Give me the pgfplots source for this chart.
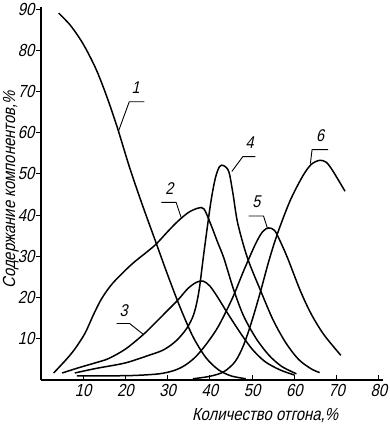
\documentclass[border=0pt]{standalone}
\usepackage{fontspec}
\setmainfont{Liberation Sans}
\newfontfamily\dfont[FakeSlant=0.22,FakeStretch=0.85]{Liberation Sans}
\usepackage{pgfplots}
\pgfplotsset{compat=1.18}
\begin{document}
\begin{tikzpicture}
\useasboundingbox (-41pt,-50pt) rectangle (348pt,380pt);
\begin{axis}[
  at={(0,0)}, anchor=south west,
  width=342pt, height=373pt, scale only axis,
  xmin=0, xmax=81, ymin=0, ymax=90.5,
  axis x line=bottom, axis y line=left,
  axis line style={-, line width=1.4pt},
  xtick={10,20,...,80}, ytick={10,20,...,90},
  xtick align=inside, ytick align=outside,
  major tick length=5pt,
  tick style={black, line width=1.1pt},
  /pgf/number format/assume math mode=true,
  ticklabel style={font=\dfont\fontsize{17.5}{17.5}\selectfont},
  xticklabel style={yshift=-1pt},
  yticklabel style={xshift=2pt},
  xlabel={Количество отгона,\%},
  ylabel={Содержание компонентов,\%},
  xlabel style={font=\dfont\fontsize{17.5}{17.5}\selectfont, at={(axis description cs:0.655,-0.094)}, anchor=center},
  ylabel style={font=\dfont\fontsize{17.5}{17.5}\selectfont, at={(axis description cs:-0.088,0.51)}, anchor=center, rotate=0},
  clip=false,
]
% curve 1
\addplot[black, line width=1.5pt, smooth] coordinates {(4.2,89)(7,86)(10,81.5)(13,75.5)(15.5,69)(18,61.5)(21,51.5)(24,42.5)(27,34)(30,25.5)(33,17.5)(36,10.5)(39,5.5)(42,2.5)(45,1)(48.5,0.3)};
% curve 2
\addplot[black, line width=1.5pt, smooth] coordinates {(3,1.7)(6,5)(8,7.5)(10.4,11.3)(12.5,16)(14.4,19.8)(17,23.5)(21.4,28)(25,31)(27.3,33)(30,36)(32.5,38.6)(35,40.7)(37.2,41.7)(38.6,41.5)(40.2,37.8)(41.8,33.5)(43.3,29.6)(45.6,22)(48,15.5)(51,10)(54,6)(57,3.3)(60.5,1.5)};
% curve 3
\addplot[black, line width=1.5pt, smooth] coordinates {(5,1.7)(9,3)(13,4.2)(16,5.2)(20,7.5)(24.2,11)(27,13.8)(30,16.9)(32.5,19.5)(34.8,22.2)(36.8,23.7)(38.4,24)(40,22.8)(41.9,20)(44,16.5)(47.3,11.3)(50,7.5)(53,4.5)(56.5,2.5)(60,1.2)};
% curve 4
\addplot[black, line width=1.5pt, smooth] coordinates {(8,1.7)(13,2.8)(19.8,4.1)(25,5.8)(29,7.3)(32,9.5)(34.5,12.5)(36.2,16)(37.4,21.5)(38.6,31)(40.2,43)(41.3,49)(42.3,51.8)(43.3,52)(44.5,50.5)(45.5,45)(46.6,38)(48.9,29.6)(52,21.7)(55,14.5)(58,9)(61,5)(64,2.7)(66,1.8)};
% curve 5
\addplot[black, line width=1.5pt, smooth] coordinates {(8.5,1)(15,1)(22,1.1)(28,1.5)(31.5,2.3)(34,3.5)(36.5,5.5)(39,8.5)(42,13)(45.4,20)(48,26.5)(50.8,33)(52.5,36)(53.9,36.9)(55.3,36.3)(56.5,34)(58.4,29.6)(61.4,21.7)(64,16)(67,11)(71,6)};
% curve 6
\addplot[black, line width=1.5pt, smooth] coordinates {(36,0.3)(40,0.9)(43.3,2)(46,4.5)(48,8.5)(50,14.5)(52,21.5)(54,29)(56,35.5)(59,43.5)(62,49.5)(64,52.3)(66,53.3)(67.6,52.8)(69.2,50.6)(72,45.8)};
% leaders
\addplot[black, line width=0.9pt] coordinates {(18.4,60.5)(20.9,67.5)(24.5,67.5)};
\addplot[black, line width=0.9pt] coordinates {(28.5,43.1)(32,43.1)(33.2,39.4)};
\addplot[black, line width=0.9pt] coordinates {(17.9,13.7)(21,13.7)(24.2,11.1)};
\addplot[black, line width=0.9pt] coordinates {(45.2,50.6)(47.8,54.2)(50.8,54.2)};
\addplot[black, line width=0.9pt] coordinates {(53.6,36.9)(52.7,39.8)(49.2,39.8)};
\addplot[black, line width=0.9pt] coordinates {(63.8,52.5)(64.2,55.9)(68,55.9)};
\node[font=\dfont\fontsize{17}{17}\selectfont] at (axis cs:22.4,70.9) {1};
\node[font=\dfont\fontsize{17}{17}\selectfont] at (axis cs:30.4,46.5) {2};
\node[font=\dfont\fontsize{17}{17}\selectfont] at (axis cs:19.6,16.9) {3};
\node[font=\dfont\fontsize{17}{17}\selectfont] at (axis cs:49.4,57.6) {4};
\node[font=\dfont\fontsize{17}{17}\selectfont] at (axis cs:51.0,43.2) {5};
\node[font=\dfont\fontsize{17}{17}\selectfont] at (axis cs:66.1,59.3) {6};
\end{axis}
\end{tikzpicture}
\end{document}
